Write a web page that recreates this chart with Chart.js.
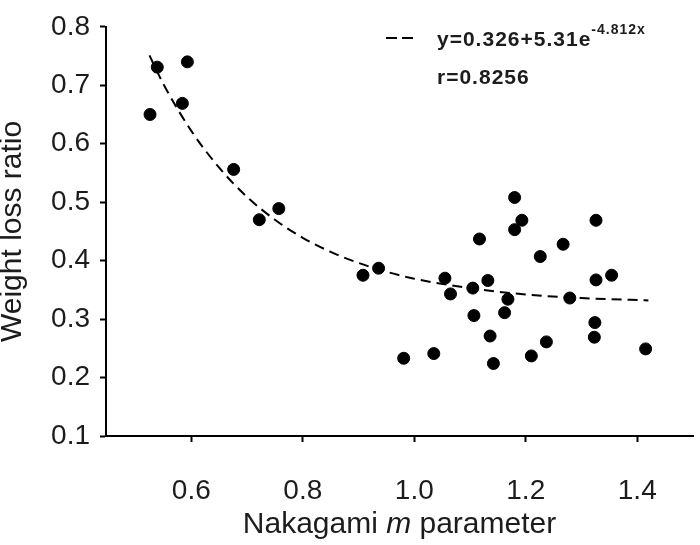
<!DOCTYPE html>
<html>
<head>
<meta charset="utf-8">
<script src="https://cdn.jsdelivr.net/npm/chart.js@4.4.1/dist/chart.umd.min.js"></script>
<style>
  html, body { margin: 0; padding: 0; background: #fff; }
  #wrap { width: 700px; height: 545px; }
</style>
</head>
<body>
<div id="wrap"><canvas id="chart" width="700" height="545"></canvas></div>
<script>
// measured samples (Nakagami m, weight loss ratio)
const mValues = [
    0.526, 0.539, 0.593, 0.584, 0.676, 0.722, 0.757,
    0.908, 0.936, 0.981, 1.035, 1.055, 1.065, 1.105, 1.107,
    1.117, 1.132, 1.136, 1.142, 1.162, 1.168, 1.180, 1.180,
    1.193, 1.210, 1.226, 1.237, 1.267, 1.279, 1.323, 1.324,
    1.326, 1.326, 1.354, 1.415
];
const lossRatio = [
    0.650, 0.731, 0.740, 0.669, 0.556, 0.470, 0.489,
    0.375, 0.387, 0.233, 0.241, 0.370, 0.343, 0.353, 0.306,
    0.437, 0.366, 0.271, 0.224, 0.311, 0.334, 0.508, 0.453,
    0.469, 0.237, 0.407, 0.261, 0.428, 0.336, 0.269, 0.294,
    0.469, 0.367, 0.375, 0.249
];

// fitted curve as drawn (dashed)
const fitX = [0.525, 0.55, 0.6, 0.65, 0.7, 0.75, 0.8, 0.85, 0.9, 0.95, 1.0, 1.1, 1.2, 1.3, 1.42];
const fitY = [0.751, 0.702, 0.622, 0.559, 0.509, 0.470, 0.439, 0.415, 0.396, 0.381, 0.369, 0.353, 0.342, 0.336, 0.332];

const xTicks = [0.6, 0.8, 1.0, 1.2, 1.4];
const fitLabel = 'y=0.326+5.31e';
const fitExponent = '-4.812x';
const rLabel = 'r=0.8256';

const textColor = '#1c1c1c';
const fontFamily = '"Liberation Sans", Arial, sans-serif';

// equation box in the upper right
const fitLegend = {
    id: 'fitLegend',
    afterDraw(chart) {
        const ctx = chart.ctx;
        ctx.save();
        ctx.letterSpacing = '1px';
        ctx.strokeStyle = '#000';
        ctx.lineWidth = 2;
        ctx.setLineDash([11, 5]);
        ctx.beginPath();
        ctx.moveTo(386, 38);
        ctx.lineTo(414, 38);
        ctx.stroke();
        ctx.setLineDash([]);

        ctx.fillStyle = textColor;
        ctx.textBaseline = 'alphabetic';
        ctx.textAlign = 'left';
        ctx.font = 'bold 21px ' + fontFamily;
        ctx.fillText(fitLabel, 437, 46);
        const w = ctx.measureText(fitLabel).width;
        ctx.font = 'bold 14px ' + fontFamily;
        ctx.fillText(fitExponent, 437 + w, 34);
        ctx.font = 'bold 21px ' + fontFamily;
        ctx.fillText(rLabel, 437, 84);
        ctx.restore();
    }
};

// x title with italic "m"
const xTitle = {
    id: 'xTitle',
    afterDraw(chart) {
        const ctx = chart.ctx;
        const area = chart.chartArea;
        const parts = [
            { t: 'Nakagami ', f: '30px ' + fontFamily },
            { t: 'm', f: 'italic 30px ' + fontFamily },
            { t: ' parameter', f: '30px ' + fontFamily }
        ];
        ctx.save();
        let total = 0;
        parts.forEach(p => { ctx.font = p.f; p.w = ctx.measureText(p.t).width; total += p.w; });
        let x = (area.left + area.right) / 2 - total / 2;
        ctx.fillStyle = textColor;
        ctx.textBaseline = 'alphabetic';
        ctx.textAlign = 'left';
        parts.forEach(p => { ctx.font = p.f; ctx.fillText(p.t, x, 533); x += p.w; });
        ctx.restore();
    }
};

const ctx = document.getElementById('chart').getContext('2d');
new Chart(ctx, {
    type: 'scatter',
    data: {
        datasets: [
            {
                label: 'fit',
                type: 'line',
                data: fitX.map((x, i) => ({ x, y: fitY[i] })),
                borderColor: '#000',
                borderWidth: 2,
                borderDash: [10, 6],
                pointRadius: 0,
                fill: false,
                cubicInterpolationMode: 'monotone'
            },
            {
                label: 'samples',
                data: mValues.map((x, i) => ({ x, y: lossRatio[i] })),
                backgroundColor: '#000',
                borderColor: '#000',
                pointRadius: 6,
                pointHoverRadius: 6
            }
        ]
    },
    options: {
        responsive: false,
        animation: false,
        layout: { padding: { top: 12, right: 3, left: 0, bottom: 0 } },
        plugins: {
            legend: { display: false },
            tooltip: { enabled: false }
        },
        scales: {
            x: {
                type: 'linear',
                min: 0.447,
                max: 1.5,
                afterBuildTicks: (scale) => { scale.ticks = xTicks.map(v => ({ value: v })); },
                afterFit: (scale) => { scale.height = 109; },
                border: { color: '#000', width: 2 },
                grid: { drawOnChartArea: false, tickLength: 6, tickWidth: 2, tickColor: '#000' },
                ticks: {
                    color: textColor,
                    padding: 32,
                    maxRotation: 0,
                    font: { family: fontFamily, size: 28 },
                    callback: (v) => Number(v).toFixed(1)
                }
            },
            y: {
                min: 0.1,
                max: 0.8,
                afterFit: (scale) => { scale.width = 106; },
                border: { color: '#000', width: 2 },
                grid: { drawOnChartArea: false, tickLength: 6, tickWidth: 2, tickColor: '#000' },
                ticks: {
                    stepSize: 0.1,
                    color: textColor,
                    padding: 10,
                    font: { family: fontFamily, size: 28 },
                    callback: (v) => Number(v).toFixed(1)
                },
                title: {
                    display: true,
                    text: 'Weight loss ratio',
                    color: textColor,
                    font: { family: fontFamily, size: 30, lineHeight: 1 },
                    padding: { top: -2, bottom: 0 }
                }
            }
        }
    },
    plugins: [fitLegend, xTitle]
});
</script>
</body>
</html>
